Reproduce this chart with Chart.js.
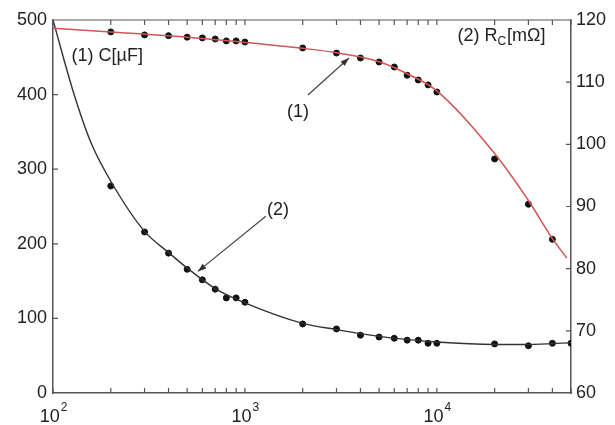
<!DOCTYPE html>
<html>
<head>
<meta charset="utf-8">
<script src="https://cdn.jsdelivr.net/npm/chart.js@4/dist/chart.umd.min.js"></script>
<style>
  html, body { margin: 0; padding: 0; background: #fff; }
  #wrap { width: 615px; height: 425px; }
</style>
</head>
<body>
<div id="wrap"><canvas id="chart" width="615" height="425"></canvas></div>
<script>
// frequências medidas (Hz)
const freqs = [200, 300, 400, 500, 600, 700, 800, 900, 1000, 2000, 3000, 4000, 5000, 6000, 7000, 8000, 9000, 10000, 20000, 30000, 40000];
// (1) capacitância C [µF]
const capValues = [484, 480, 479, 477, 476, 474.5, 472, 472, 470.5, 462.5, 455.7, 449, 443.7, 437, 426, 419.6, 413, 403.5, 313.7, 253, 206];
// (2) resistência Rc [mΩ]
const resFreqs = [200, 300, 400, 500, 600, 700, 800, 900, 1000, 2000, 3000, 4000, 5000, 6000, 7000, 8000, 9000, 10000, 20000, 30000, 40000, 50000];
const resValues = [93.3, 85.9, 82.5, 79.9, 78.2, 76.7, 75.3, 75.3, 74.6, 71.1, 70.3, 69.3, 69.0, 68.8, 68.5, 68.5, 68.0, 68.0, 67.9, 67.6, 68.0, 68.0];

// curvas ajustadas
const capFitX = [100, 200, 500, 1000, 2000, 3000, 5000, 7000, 10000, 20000, 30000, 40000, 47500];
const capFitY = [489, 484, 477, 470, 462, 456, 444, 428, 405, 321, 258, 207, 181];
const resFitX = [100, 128, 158, 205, 300, 400, 500, 700, 1000, 2000, 3000, 5000, 10000, 20000, 30000, 50000];
const resFitY = [120, 108.3, 100.2, 93.5, 86, 82.6, 80.1, 76.8, 74.5, 71.2, 70.2, 69.1, 68.2, 67.8, 67.8, 68.1];

// ticks
const xTicks = [100, 200, 300, 400, 500, 600, 700, 800, 900, 1000, 2000, 3000, 4000, 5000, 6000, 7000, 8000, 9000, 10000, 20000, 30000, 40000, 50000];
const xDecades = [100, 1000, 10000];
const xExponents = ["2", "3", "4"];

const toPts = (xs, ys) => xs.map((x, i) => ({ x: x, y: ys[i] }));

const axisColor = "#555";
const fontFam = "'Liberation Sans', Arial, sans-serif";

// desenha ticks internos, borda superior, rótulos e setas
const extras = {
  id: "extras",
  afterDraw(chart) {
    const { ctx, chartArea: a, scales } = chart;
    const x = scales.x, y = scales.y, y2 = scales.y2;
    ctx.save();
    ctx.strokeStyle = axisColor;
    ctx.lineWidth = 1.2;
    ctx.beginPath();
    // borda superior
    ctx.moveTo(a.left, a.top); ctx.lineTo(a.right, a.top);
    xTicks.forEach(v => {
      const px = x.getPixelForValue(v);
      ctx.moveTo(px, a.bottom); ctx.lineTo(px, a.bottom - 5);
      ctx.moveTo(px, a.top); ctx.lineTo(px, a.top + 5);
    });
    [100, 200, 300, 400].forEach(v => {
      const py = y.getPixelForValue(v);
      ctx.moveTo(a.left, py); ctx.lineTo(a.left + 5, py);
    });
    [70, 80, 90, 100, 110].forEach(v => {
      const py = y2.getPixelForValue(v);
      ctx.moveTo(a.right, py); ctx.lineTo(a.right - 5, py);
    });
    ctx.stroke();

    // rótulos do eixo x: 10 com expoente
    ctx.fillStyle = "#222";
    ctx.textBaseline = "alphabetic";
    ctx.textAlign = "left";
    xDecades.forEach((v, i) => {
      ctx.font = "18px " + fontFam;
      const wBase = ctx.measureText("10").width;
      ctx.font = "12px " + fontFam;
      const wExp = ctx.measureText(xExponents[i]).width;
      const left = x.getPixelForValue(v) - (wBase + wExp) / 2;
      ctx.font = "18px " + fontFam;
      ctx.fillText("10", left, a.bottom + 29);
      ctx.font = "12px " + fontFam;
      ctx.fillText(xExponents[i], left + wBase + 1, a.bottom + 18);
    });

    // setas
    const arrow = (x1, y1, x2, y2v) => {
      const ax = x.getPixelForValue(x1), ay = y.getPixelForValue(y1);
      const bx = x.getPixelForValue(x2), by = y.getPixelForValue(y2v);
      const ang = Math.atan2(by - ay, bx - ax);
      ctx.strokeStyle = "#444";
      ctx.fillStyle = "#333";
      ctx.lineWidth = 1.2;
      ctx.beginPath(); ctx.moveTo(ax, ay); ctx.lineTo(bx, by); ctx.stroke();
      ctx.beginPath();
      ctx.moveTo(bx, by);
      ctx.lineTo(bx - 9 * Math.cos(ang - 0.35), by - 9 * Math.sin(ang - 0.35));
      ctx.lineTo(bx - 9 * Math.cos(ang + 0.35), by - 9 * Math.sin(ang + 0.35));
      ctx.closePath(); ctx.fill();
    };
    arrow(2129, 399.5, 3485, 449);
    arrow(1285, 237, 569, 163);

    ctx.fillStyle = "#222";
    ctx.font = "18px " + fontFam;
    ctx.textBaseline = "middle";
    ctx.textAlign = "center";
    ctx.fillText("(1)", x.getPixelForValue(1888), y.getPixelForValue(377));
    ctx.fillText("(2)", x.getPixelForValue(1486), y.getPixelForValue(245));

    ctx.textAlign = "left";
    ctx.fillText("(1) C[\u00B5F]", x.getPixelForValue(125), y.getPixelForValue(452));

    // (2) Rc[mΩ] com subscrito
    let px = x.getPixelForValue(12800);
    const py = y.getPixelForValue(478);
    ctx.fillText("(2) R", px, py);
    px += ctx.measureText("(2) R").width;
    ctx.font = "12px " + fontFam;
    ctx.fillText("C", px, py + 5);
    px += ctx.measureText("C").width + 1;
    ctx.font = "18px " + fontFam;
    ctx.fillText("[m\u03A9]", px, py);
    ctx.restore();
  }
};

new Chart(document.getElementById("chart"), {
  type: "scatter",
  data: {
    datasets: [
      {
        label: "C fit",
        data: toPts(capFitX, capFitY),
        showLine: true,
        borderColor: "#d05555",
        borderWidth: 1.5,
        pointRadius: 0,
        cubicInterpolationMode: "monotone",
        yAxisID: "y"
      },
      {
        label: "Rc fit",
        data: toPts(resFitX, resFitY),
        showLine: true,
        borderColor: "#333",
        borderWidth: 1.4,
        pointRadius: 0,
        cubicInterpolationMode: "monotone",
        yAxisID: "y2"
      },
      {
        label: "C",
        data: toPts(freqs, capValues),
        backgroundColor: "#111",
        borderColor: "#111",
        pointRadius: 3,
        yAxisID: "y"
      },
      {
        label: "Rc",
        data: toPts(resFreqs, resValues),
        backgroundColor: "#111",
        borderColor: "#111",
        pointRadius: 3,
        yAxisID: "y2"
      }
    ]
  },
  options: {
    responsive: false,
    animation: false,
    layout: { padding: { top: 20, left: 0, right: 0, bottom: 0 } },
    plugins: { legend: { display: false }, tooltip: { enabled: false } },
    scales: {
      x: {
        type: "logarithmic",
        position: "bottom",
        min: 100,
        max: 50000,
        grid: { display: false, drawTicks: false },
        border: { display: true, color: axisColor, width: 1.5 },
        afterBuildTicks: (s) => { s.ticks = xTicks.map(v => ({ value: v })); },
        afterFit: (s) => { s.height = 32; },
        ticks: { autoSkip: false, maxRotation: 0, callback: () => "" }
      },
      y: {
        position: "left",
        min: 0,
        max: 500,
        grid: { display: false, drawTicks: false },
        border: { display: true, color: axisColor, width: 1.5 },
        afterFit: (s) => { s.width = 53; },
        ticks: { stepSize: 100, padding: 6, color: "#222", font: { family: fontFam, size: 18 } }
      },
      y2: {
        position: "right",
        min: 60,
        max: 120,
        grid: { display: false, drawTicks: false },
        border: { display: true, color: axisColor, width: 1.5 },
        afterFit: (s) => { s.width = 44; },
        ticks: { stepSize: 10, padding: 5, color: "#222", font: { family: fontFam, size: 18 } }
      }
    }
  },
  plugins: [extras]
});
</script>
</body>
</html>
